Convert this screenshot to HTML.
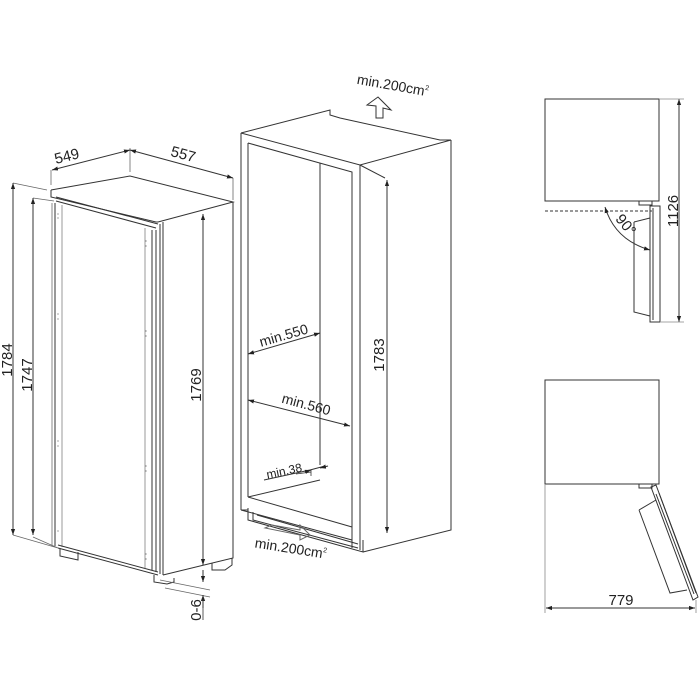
<!DOCTYPE html>
<html><head><meta charset="utf-8"><style>
html,body{margin:0;padding:0;background:#fff}
svg{display:block}
text{font-family:"Liberation Sans",sans-serif;fill:#222}
</style></head><body>
<svg width="700" height="700" viewBox="0 0 700 700" xmlns="http://www.w3.org/2000/svg">
<defs>
<marker id="a" viewBox="0 0 10 10" refX="10" refY="5" markerWidth="6" markerHeight="6" orient="auto-start-reverse"><path d="M0,1.5 L10,5 L0,8.5z" fill="#222"/></marker>
</defs>
<g fill="none" stroke="#333" stroke-width="1">
<path d="M51,190 L130,176 L233,202 L158,222"/>
<path d="M51,190 L51,197 L156,222 L158,222"/>
<path d="M56,197 L158,224"/>
<path d="M56,201 L156,228"/>
<path d="M52,203 L52,545" stroke="#888"/>
<path d="M55,203 L55,546"/>
<path d="M62,205 L62,547" stroke="#999"/>
<path d="M145,228 L145,568" stroke="#999"/>
<path d="M152,230 L152,570"/>
<path d="M156,230 L156,572"/>
<path d="M160,224 L160,574"/>
<path d="M163,222 L163,575"/>
<path d="M58,545 L158,572"/>
<path d="M58,548 L158,575"/>
<path d="M233,202 L233,558 L163,575"/>
<path d="M60,548 L60,556 L78,560 L78,552"/>
<path d="M154,575 L154,582 L167,584 L174,582 L174,578"/>
<path d="M212,563 L212,570 L225,570 L232,565 L232,558"/>
<g stroke="#aaa"><path d="M58,213v2M58,217v2M58,313v2M58,318v2M58,440v2M58,445v2M58,530v2M146,240v2M146,245v2M146,330v2M146,335v2M146,465v2M146,470v2M146,553v2M146,558v2"/></g>
<g stroke="#666" stroke-width="0.8">
<path d="M13,183 L47,190M33,198 L54,201M13,535 L58,548M33,537 L58,548M160,580 L210,590M165,588 L210,597"/>
<path d="M51,185 L51,170M130,172 L130,148M233,200 L233,178"/>
</g>
<path d="M13,535 L13,183" marker-end="url(#a)" marker-start="url(#a)"/>
<path d="M33,535 L33,198" marker-end="url(#a)" marker-start="url(#a)"/>
<path d="M203,565 L203,214" marker-end="url(#a)" marker-start="url(#a)"/>
<path d="M52,170 L130,150" marker-end="url(#a)" marker-start="url(#a)"/>
<path d="M130,150 L233,178" marker-end="url(#a)" marker-start="url(#a)"/>
<path d="M203,570 L203,582" marker-end="url(#a)"/>
<path d="M203,608 L203,595" marker-end="url(#a)"/>
<path d="M203,595 L203,620" stroke-width="0.8"/>

<path d="M241,133 L330,110 L330,115 L340,118 L440,140 L451,140 L360,165 L241,133"/>
<path d="M241,133 L241,510"/>
<path d="M248,143 L248,497"/>
<path d="M248,143 L352,172 L352,548"/>
<path d="M320,163 L320,465"/>
<path d="M360,165 L360,550"/>
<path d="M451,140 L451,530 L363,552"/>
<path d="M360,165 L385,178"/>
<path d="M248,497 L320,480 M248,497 L352,527 M241,510 L352,540"/>
<path d="M248,508 L248,520 L363,552 L363,540"/>
<path d="M253,512 L253,520 L358,548 M257,515 L358,544"/>
<path d="M241,510 L248,510"/>
<path d="M367,105 L378,97 L391,110 L383,108 L383,118 L376,118 L376,106 Z"/>
<path d="M265,528 L272,525 L300,530 L300,525 L310,535 L300,540 L300,535 Z" stroke="#666"/>
<path d="M387,533 L387,180" marker-end="url(#a)" marker-start="url(#a)"/>
<path d="M248,354 L320,333" marker-end="url(#a)" marker-start="url(#a)"/>
<path d="M248,400 L350,426" marker-end="url(#a)" marker-start="url(#a)"/>
<path d="M264,480 L310,470 L325,466"/>
<path d="M311,470 L311,476 M311,472 L296,474" stroke-width="0.8"/>
<path d="M328,466 L320,468" marker-end="url(#a)"/>
<path d="M305,472 L311,470" marker-end="url(#a)"/>

<rect x="545" y="99" width="114" height="102"/>
<path d="M545,211 L652,211" stroke-dasharray="3,2"/>
<path d="M639,201 L639,205 L652,205 L652,201"/>
<path d="M650,206 L650,322 L660,322 L660,206 Z"/>
<path d="M653,208 L653,320"/>
<path d="M634,222 L650,218 M634,222 L634,312 L650,316"/>
<path d="M605,207 Q615,240 650,250" marker-start="url(#a)" marker-end="url(#a)"/>
<path d="M679,322 L679,99" marker-start="url(#a)" marker-end="url(#a)"/>
<path d="M659,99 L684,99 M661,322 L684,322" stroke-width="0.8" stroke="#888"/>

<rect x="545" y="380" width="114" height="104"/>
<path d="M545,484 L545,613" stroke="#888" stroke-width="0.8"/>
<path d="M639,484 L639,488 L652,488 L652,484"/>
<path d="M651,487 L656,485 L698,597 L693,600 Z"/>
<path d="M656,494 L694,594 M659,493 L696,593"/>
<path d="M639,510 L656,500 M639,510 L670,593 L687,590"/>
<path d="M696,600 L696,613" stroke="#888" stroke-width="0.8"/>
<path d="M546,608 L695,608" marker-start="url(#a)" marker-end="url(#a)"/>
</g>

<g font-size="15">
<text transform="translate(68,161) rotate(-14)" text-anchor="middle">549</text>
<text transform="translate(182,159) rotate(15)" text-anchor="middle">557</text>
<text transform="translate(12,360) rotate(-90)" text-anchor="middle">1784</text>
<text transform="translate(32,375) rotate(-90)" text-anchor="middle">1747</text>
<text transform="translate(201,385) rotate(-90)" text-anchor="middle">1769</text>
<text transform="translate(201,610) rotate(-90)" text-anchor="middle">0-6</text>
<text transform="translate(392,90) rotate(10)" text-anchor="middle" font-size="14">min.200cm<tspan font-size="7" dy="-6">2</tspan></text>
<text transform="translate(285,340) rotate(-16)" text-anchor="middle" font-size="14">min.550</text>
<text transform="translate(305,409) rotate(15)" text-anchor="middle" font-size="14">min.560</text>
<text transform="translate(285,475) rotate(-12)" text-anchor="middle" font-size="12">min.38</text>
<text transform="translate(290,553) rotate(9)" text-anchor="middle" font-size="14">min.200cm<tspan font-size="7" dy="-6">2</tspan></text>
<text transform="translate(384,355) rotate(-90)" text-anchor="middle">1783</text>
<text transform="translate(678,211) rotate(-90)" text-anchor="middle">1126</text>
<text transform="translate(622,228) rotate(50)" text-anchor="middle">90°</text>
<text x="621" y="605" text-anchor="middle">779</text>
</g>
</svg>
</body></html>
